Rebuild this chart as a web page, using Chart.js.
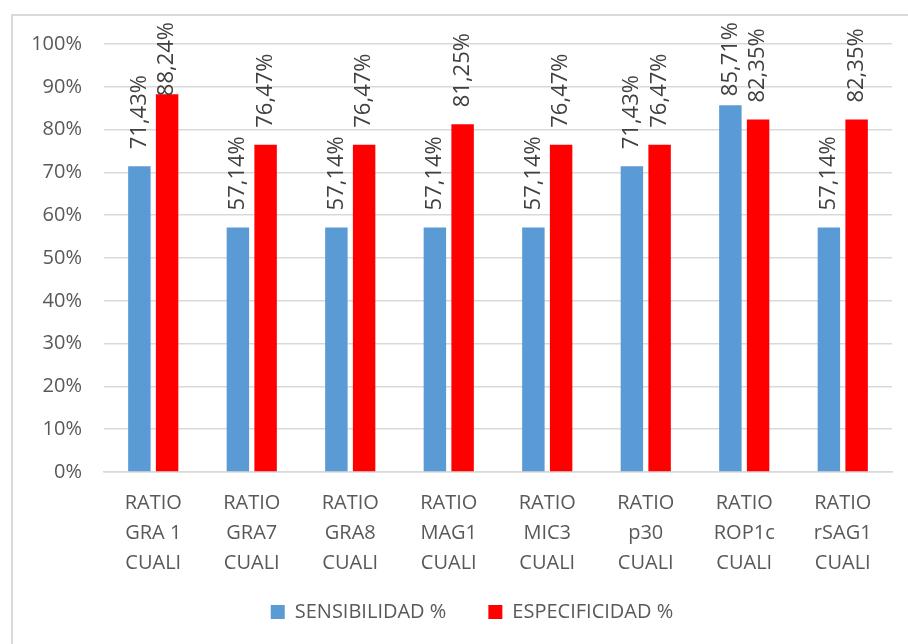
<!DOCTYPE html>
<html>
<head>
<meta charset="utf-8">
<script src="https://cdn.jsdelivr.net/npm/chart.js@4"></script>
<style>
  body { margin: 0; background: #fff; }
  #wrap { position: relative; width: 908px; height: 644px; overflow: hidden; }
  #frame { position: absolute; left: 11px; top: 14px; width: 920px; height: 660px;
           border-left: 2px solid #d9d9d9; border-top: 2px solid #d9d9d9; }
  canvas { position: absolute; left: 0; top: 0; }
</style>
</head>
<body>
<div id="wrap">
  <div id="frame"></div>
  <canvas id="chart" width="908" height="644"></canvas>
</div>
<script>
// categorias (etiquetas en varias lineas)
const categories = [
    ['RATIO', 'GRA 1', 'CUALI'],
    ['RATIO', 'GRA7', 'CUALI'],
    ['RATIO', 'GRA8', 'CUALI'],
    ['RATIO', 'MAG1', 'CUALI'],
    ['RATIO', 'MIC3', 'CUALI'],
    ['RATIO', 'p30', 'CUALI'],
    ['RATIO', 'ROP1c', 'CUALI'],
    ['RATIO', 'rSAG1', 'CUALI']
];
const sensibilidad = [71.43, 57.14, 57.14, 57.14, 57.14, 71.43, 85.71, 57.14];
const especificidad = [88.24, 76.47, 76.47, 81.25, 76.47, 76.47, 82.35, 82.35];
const yTicks = [0, 10, 20, 30, 40, 50, 60, 70, 80, 90, 100];

Chart.defaults.font.family = '"Open Sans", sans-serif';
Chart.defaults.color = '#595959';

// etiquetas de valor giradas encima de cada barra
const valueLabels = {
    id: 'valueLabels',
    afterDatasetsDraw(chart) {
        const ctx = chart.ctx;
        ctx.save();
        ctx.font = '22px "Open Sans", sans-serif';
        ctx.fillStyle = '#404040';
        ctx.textAlign = 'left';
        ctx.textBaseline = 'middle';
        chart.data.datasets.forEach((ds, i) => {
            const meta = chart.getDatasetMeta(i);
            meta.data.forEach((bar, j) => {
                const text = ds.data[j].toFixed(2).replace('.', ',') + '%';
                const w = ctx.measureText(text).width;
                let start = bar.y - 17;
                if (start - w < 22) start = 22 + w;
                ctx.save();
                ctx.translate(bar.x, start);
                ctx.rotate(-Math.PI / 2);
                ctx.fillText(text, 0, 0);
                ctx.restore();
            });
        });
        ctx.restore();
    }
};

// sube y centra un poco la leyenda
const moveLegend = {
    id: 'moveLegend',
    afterLayout(chart) {
        const lg = chart.legend;
        lg.top -= 18; lg.bottom -= 18;
        lg.left += 13; lg.right += 13;
    }
};

const ctx = document.getElementById('chart').getContext('2d');
new Chart(ctx, {
    type: 'bar',
    data: {
        labels: categories,
        datasets: [{
            label: 'SENSIBILIDAD %',
            data: sensibilidad,
            backgroundColor: '#5b9bd5'
        }, {
            label: 'ESPECIFICIDAD %',
            data: especificidad,
            backgroundColor: '#ff0000'
        }]
    },
    options: {
        responsive: false,
        animation: false,
        categoryPercentage: 0.563,
        barPercentage: 0.81,
        layout: { padding: { left: 26, right: 16, top: 44, bottom: -6 } },
        scales: {
            x: {
                grid: { display: false },
                border: { color: '#d9d9d9', width: 1.5 },
                ticks: { font: { size: 20, lineHeight: 1.5 }, padding: 8, maxRotation: 0 },
                afterFit(scale) { scale.height = 106; }
            },
            y: {
                min: 0,
                max: 100,
                afterBuildTicks(scale) { scale.ticks = yTicks.map(v => ({ value: v })); },
                grid: { color: '#d9d9d9', lineWidth: 1.5, drawTicks: false },
                border: { display: false },
                ticks: { font: { size: 20 }, padding: 22, callback: v => v + '%' },
                afterFit(scale) { scale.width = 78; }
            }
        },
        plugins: {
            legend: {
                position: 'bottom',
                labels: { boxWidth: 14, boxHeight: 14, font: { size: 20 }, padding: 42, color: '#595959' }
            },
            tooltip: { enabled: false }
        }
    },
    plugins: [valueLabels, moveLegend]
});
</script>
</body>
</html>
